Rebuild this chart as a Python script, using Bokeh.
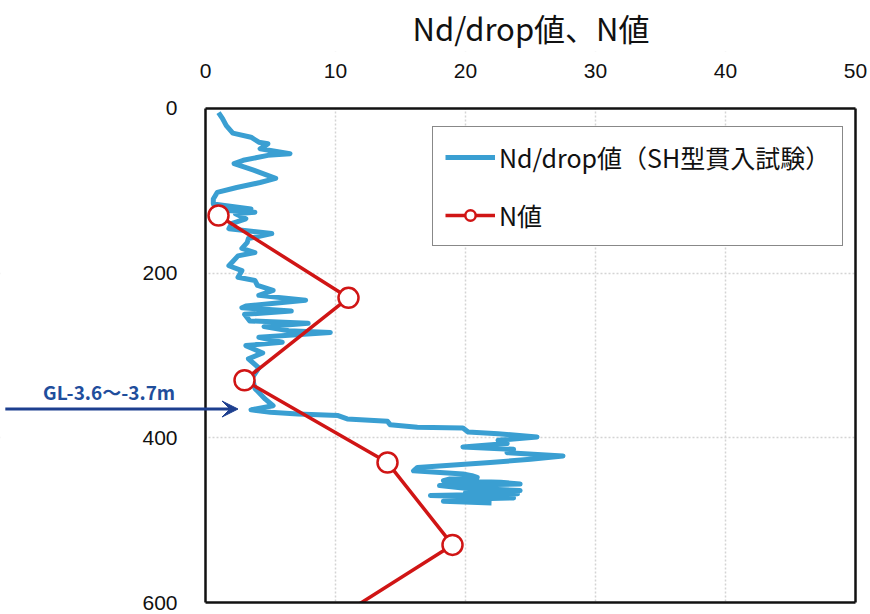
from bokeh.plotting import figure
from bokeh.models import Range1d, LinearAxis, FixedTicker, Arrow, VeeHead, Label, Legend
from bokeh.embed import file_html
from bokeh.resources import INLINE

# ---- data ----
nd_depth = [5, 12, 21, 30, 35, 41, 43, 49, 55, 57, 63, 67, 75, 85, 90, 96, 102, 110, 116,
            122, 124, 126, 128, 134, 140, 146, 152, 158, 163, 170, 175, 179, 191, 197, 205,
            209, 215, 221, 227, 233, 240, 242, 246, 250, 258, 261, 265, 270, 272, 278, 284,
            288, 297, 304, 315, 327, 340, 353, 361, 366, 369, 371, 373, 377, 380, 384, 387,
            388, 393, 395, 399, 403, 407, 411, 414, 418, 422, 426, 430, 436, 440, 444, 446,
            448, 450, 452, 454, 456, 458, 461, 464, 466, 468, 470, 473, 475, 477, 479]
nd_value = [1.0, 1.3, 1.6, 2.1, 3.5, 4.1, 4.8, 4.2, 6.5, 4.8, 2.9, 2.2, 3.7, 5.4, 4.2, 2.4, 0.9, 0.6, 0.6,
            3.5, 1.7, 3.8, 2.3, 3.1, 2.0, 1.8, 5.1, 3.3, 3.2, 2.8, 3.8, 2.5, 1.8, 2.8, 2.5,
            3.8, 4.0, 5.2, 4.1, 7.7, 3.1, 2.8, 6.6, 3.0, 3.4, 7.9, 4.5, 6.4, 9.6, 4.1, 5.9,
            3.1, 4.4, 3.3, 4.1, 3.6, 3.8, 4.6, 5.2, 3.5, 5.0, 7.1, 10.2, 10.9, 14.0, 14.2, 16.3,
            19.8, 20.2, 22.5, 25.5, 22.5, 23.2, 19.8, 23.7, 23.2, 27.5, 25.0, 21.9, 16.3, 16.0, 19.8, 20.5,
            20.9, 18.8, 18.3, 22.7, 24.2, 18.0, 19.8, 24.2, 20.0, 24.0, 17.3, 23.7, 19.0, 18.3, 22.0]

n_depth = [130, 230, 330, 430, 530, 630]
n_value = [1.0, 11.0, 3.0, 14.0, 19.0, 9.0]

x_ticks = [0, 10, 20, 30, 40, 50]
y_ticks = [0, 200, 400, 600]

note_text = "GL-3.6～-3.7m"
note_depth = 365
note_x_start = -15.4
note_x_end = 2.5

X_MIN, X_MAX = 0, 50
Y_MIN, Y_MAX = 0, 600
# visible margins around the chart box (room for the arrow and tick labels)
X_VIEW_MIN, X_VIEW_MAX = -15.77, 51.0
Y_VIEW_MIN, Y_VIEW_MAX = -69.1, 614.5

CJK = "Noto Sans CJK JP"
BLACK = "#111111"

p = figure(width=870, height=614, output_backend="svg", toolbar_location=None,
           x_range=Range1d(X_VIEW_MIN, X_VIEW_MAX), y_range=Range1d(Y_VIEW_MAX, Y_VIEW_MIN),
           x_axis_location=None, y_axis_location=None,
           min_border_left=0, min_border_right=2, min_border_top=50, min_border_bottom=0,
           title="Nd/drop値、N値")
p.outline_line_color = None

p.title.text_font = CJK
p.title.text_font_size = "31px"
p.title.text_font_style = "normal"
p.title.align = "left"
p.title.offset = 412
p.title.text_color = BLACK
p.title.standoff = 4

def style(ax):
    ax.major_label_text_font = "Liberation Sans"
    ax.major_label_text_font_size = "21px"
    ax.major_label_text_color = BLACK
    ax.major_tick_line_color = None
    ax.minor_tick_line_color = None
    ax.axis_line_color = BLACK
    ax.axis_line_width = 2.5

xa = LinearAxis(ticker=FixedTicker(ticks=x_ticks), bounds=(X_MIN, X_MAX), fixed_location=Y_MIN)
style(xa)
xa.major_label_standoff = 24
p.add_layout(xa, "above")

xb = LinearAxis(ticker=FixedTicker(ticks=[]), bounds=(X_MIN, X_MAX), fixed_location=Y_MAX)
style(xb)
p.add_layout(xb, "below")

ya = LinearAxis(ticker=FixedTicker(ticks=y_ticks), bounds=(Y_MIN, Y_MAX), fixed_location=X_MIN)
style(ya)
ya.major_label_standoff = 22
p.add_layout(ya, "left")

yr = LinearAxis(ticker=FixedTicker(ticks=[]), bounds=(Y_MIN, Y_MAX), fixed_location=X_MAX)
style(yr)
p.add_layout(yr, "right")

p.xgrid.ticker = FixedTicker(ticks=[10, 20, 30, 40])
p.ygrid.ticker = FixedTicker(ticks=[200, 400])
p.grid.grid_line_color = "#d4d4d4"
p.grid.grid_line_dash = "2 2"
p.grid.grid_line_width = 1.5

blue = "#3a9fd2"
red = "#d01515"

r_nd = p.line(nd_value, nd_depth, line_color=blue, line_width=5, line_join="round")
r_nl = p.line(n_value, n_depth, line_color=red, line_width=3.5)
r_nc = p.scatter(n_value, n_depth, marker="circle", size=20, fill_color="white",
                 line_color=red, line_width=2.5)

# white masks over the margins outside the chart box (clip grid lines and data there)
p.quad(left=[X_VIEW_MIN, X_MIN, X_MIN, X_MAX], right=[X_MIN, X_MAX, X_MAX, X_VIEW_MAX],
       top=[Y_VIEW_MIN, Y_VIEW_MIN, Y_MAX, Y_VIEW_MIN],
       bottom=[Y_VIEW_MAX, Y_MIN, Y_VIEW_MAX, Y_VIEW_MAX],
       fill_color="white", line_color=None)

legend = Legend(items=[("Nd/drop値（SH型貫入試験）", [r_nd]), ("N値", [r_nl, r_nc])],
                location=(432, 368))
legend.label_text_font = CJK
legend.label_text_font_size = "25px"
legend.label_text_color = BLACK
legend.glyph_width = 50
legend.glyph_height = 26
legend.label_height = 28
legend.spacing = 22
legend.padding = 12
legend.margin = 0
legend.label_standoff = 4
legend.border_line_color = BLACK
legend.border_line_width = 1.5
legend.background_fill_color = "white"
legend.background_fill_alpha = 1.0
p.add_layout(legend, "center")

arrow_color = "#1d3f8f"
p.add_layout(Arrow(end=VeeHead(size=16, fill_color=arrow_color, line_color=arrow_color),
                   x_start=note_x_start, y_start=note_depth, x_end=note_x_end, y_end=note_depth,
                   line_color=arrow_color, line_width=3))
p.add_layout(Label(x=note_x_start + 2.9, y=note_depth - 21, text=note_text,
                   text_font=CJK, text_font_size="19px", text_font_style="bold",
                   text_color="#1f4e9c", text_baseline="middle", text_align="left"))

open("out.html", "w").write(file_html(p, INLINE))
